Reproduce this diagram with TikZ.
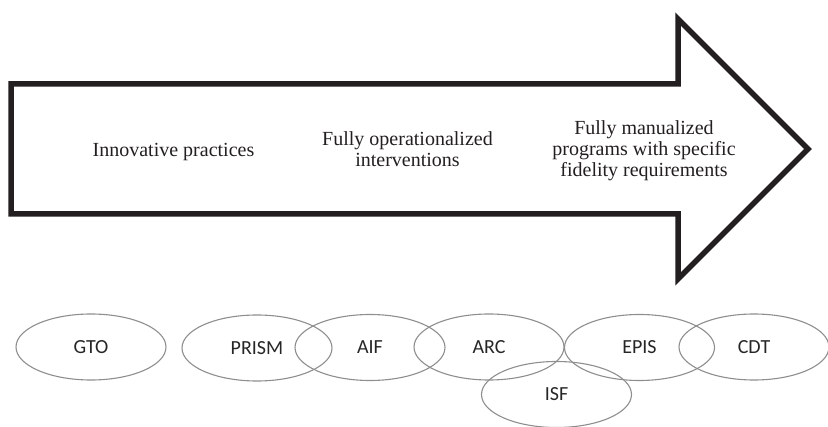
\documentclass[tikz,border=0pt]{standalone}
\usepackage{fontspec}
\setmainfont{Liberation Serif}
\newfontfamily\labelfont{Carlito}
\usetikzlibrary{shapes.geometric}
\definecolor{arrowink}{HTML}{231F20}
\definecolor{ringgray}{HTML}{8E8E8E}
\tikzstyle{every node}=[inner sep=0pt]
\tikzstyle{every path}=[line cap=butt,line join=miter]
\tikzstyle{stage}=[font=\fontsize{20}{21}\selectfont,align=center,text=arrowink]
\tikzstyle{prog}=[draw=ringgray,line width=1.1pt,ellipse,minimum width=150pt,
  minimum height=66pt,font=\labelfont\fontsize{20}{22}\selectfont,text=black!85]

\begin{document}
\begin{tikzpicture}[x=1pt,y=-1pt]
\useasboundingbox (0,0) rectangle (828,427);
% the big arrow
\draw[arrowink,line width=5.5pt]
(11,84)--(678,84)--(678,19)--(808,149)--(678,279)--(678,214)--(11,214)--cycle;
\node[stage] (innov) at (173.5,152.3) {Innovative practices};
\node[stage] (oper) at (407.5,149.6) {Fully operationalized\\interventions};
\node[stage] (manual) at (644,150.3) {Fully manualized\\programs with specific\\fidelity requirements};
% programs
\node[prog] (gto) at (91,347) {GTO};
\node[prog] (prism) at (257,348) {PRISM};
\node[prog] (aif) at (370,347.5) {AIF};
\node[prog] (arc) at (489,347) {ARC};
\node[prog] (isf) at (556.5,394.5) {ISF};
\node[prog] (epis) at (639.5,347.5) {EPIS};
\node[prog] (cdt) at (754,347) {CDT};
\end{tikzpicture}
\end{document}
